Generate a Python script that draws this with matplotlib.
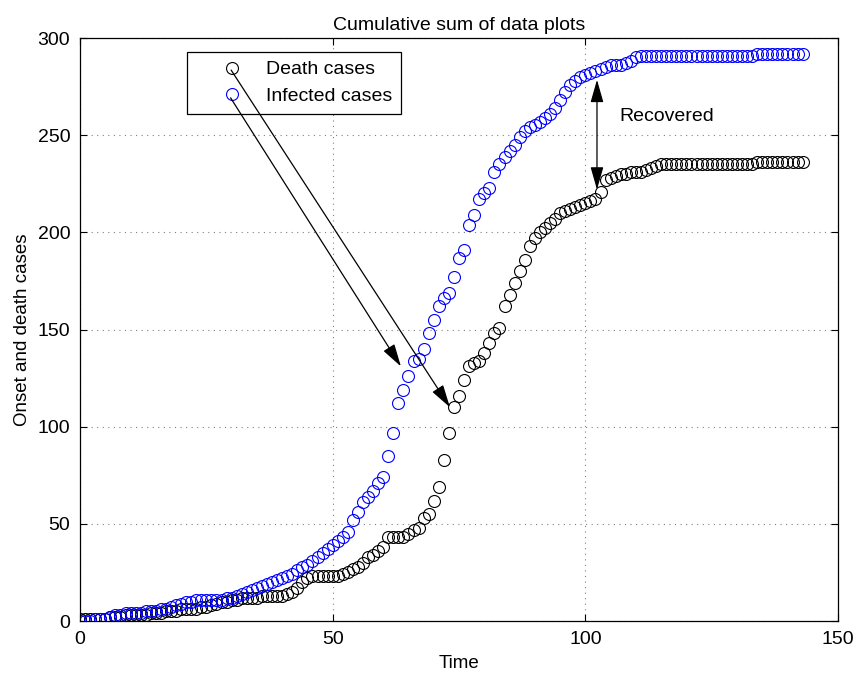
import numpy as np
import matplotlib
matplotlib.use("Agg")
import matplotlib.pyplot as plt

plt.rcParams['font.family'] = ['Liberation Sans', 'DejaVu Sans']

# cumulative counts per day
days = np.arange(0, 144)

deaths = [1, 1, 1, 1, 1, 1, 2, 2, 2, 3,
          3, 3, 3, 3, 4, 4, 4, 5, 5, 5,
          6, 6, 6, 6, 7, 7, 8, 9, 10, 10,
          11, 11, 12, 12, 12, 12, 13, 13, 13, 13,
          13, 14, 15, 17, 20, 22, 23, 23, 23, 23,
          23, 23, 24, 25, 27, 28, 30, 33, 34, 36,
          38, 43, 43, 43, 43, 45, 47, 48, 53, 55,
          62, 69, 83, 97, 110, 116, 124, 131, 133, 134,
          138, 143, 148, 151, 162, 168, 174, 180, 186, 193,
          197, 200, 202, 205, 207, 210, 211, 212, 213, 214,
          215, 216, 217, 221, 227, 228, 229, 230, 230, 231,
          231, 231, 232, 233, 234, 235, 235, 235, 235, 235,
          235, 235, 235, 235, 235, 235, 235, 235, 235, 235,
          235, 235, 235, 235, 236, 236, 236, 236, 236, 236,
          236, 236, 236, 236]

infected = [0, 0, 0, 1, 1, 1, 2, 3, 3, 4,
            4, 4, 4, 5, 5, 5, 6, 6, 7, 8,
            9, 10, 10, 11, 11, 11, 11, 11, 11, 12,
            12, 13, 14, 15, 16, 17, 18, 19, 20, 21,
            22, 23, 24, 26, 28, 29, 31, 33, 35, 37,
            39, 41, 43, 46, 52, 56, 61, 64, 67, 71,
            74, 85, 97, 112, 119, 126, 134, 135, 140, 148,
            155, 162, 166, 169, 177, 187, 191, 204, 209, 217,
            220, 223, 231, 235, 239, 242, 245, 249, 252, 254,
            255, 257, 259, 261, 264, 268, 272, 276, 278, 280,
            281, 282, 283, 284, 285, 286, 286, 286, 287, 288,
            290, 291, 291, 291, 291, 291, 291, 291, 291, 291,
            291, 291, 291, 291, 291, 291, 291, 291, 291, 291,
            291, 291, 291, 291, 292, 292, 292, 292, 292, 292,
            292, 292, 292, 292]

fig = plt.figure(figsize=(8.56, 6.74), dpi=100)
ax = fig.add_axes([0.0935, 0.0786, 0.8855, 0.865])

ax.plot(days, deaths, 'o', mfc='none', mec='black', ms=8.6, mew=0.8, label='Death cases')
ax.plot(days, infected, 'o', mfc='none', mec='blue', ms=8.6, mew=0.8, label='Infected cases')

ax.set_xlim(0, 150)
ax.set_ylim(0, 300)
ax.set_xticks([0, 50, 100, 150])
ax.set_yticks([0, 50, 100, 150, 200, 250, 300])
ax.grid(True, linestyle=(0, (1, 4)), color='#808080', linewidth=0.8)
ax.tick_params(direction='in', length=5, labelsize=14, top=True, right=True, pad=7)
for s in ax.spines.values():
    s.set_linewidth(0.9)

ax.set_title('Cumulative sum of data plots', fontsize=14, pad=6)
ax.set_xlabel('Time', fontsize=13.5, labelpad=5)
ax.set_ylabel('Onset and death cases', fontsize=13.5, labelpad=5)

leg = ax.legend(loc='upper left', bbox_to_anchor=(0.141, 0.976), fontsize=14,
                fancybox=False, edgecolor='black', framealpha=1,
                handlelength=3.7, handletextpad=-0.1, borderpad=0.45,
                labelspacing=0.46, borderaxespad=0)
leg.get_frame().set_linewidth(0.9)

# arrows from the legend entries onto the curves
head = dict(arrowstyle='-|>,head_length=1.4,head_width=0.4', color='black',
            lw=0.9, shrinkA=0, shrinkB=0)
ax.annotate('', xy=(73.2, 110.0), xytext=(29.9, 283.5), arrowprops=head, zorder=6)
ax.annotate('', xy=(63.5, 131.0), xytext=(29.8, 269.2), arrowprops=head, zorder=6)

# gap between infected and deaths
both = dict(arrowstyle='<|-|>,head_length=1.4,head_width=0.4', color='black',
            lw=0.9, shrinkA=0, shrinkB=0)
ax.annotate('', xy=(102.3, 222.0), xytext=(102.3, 278.5), arrowprops=both)
ax.text(106.8, 259.5, 'Recovered', fontsize=14, va='center', ha='left')

fig.savefig('out.png', dpi=100)
